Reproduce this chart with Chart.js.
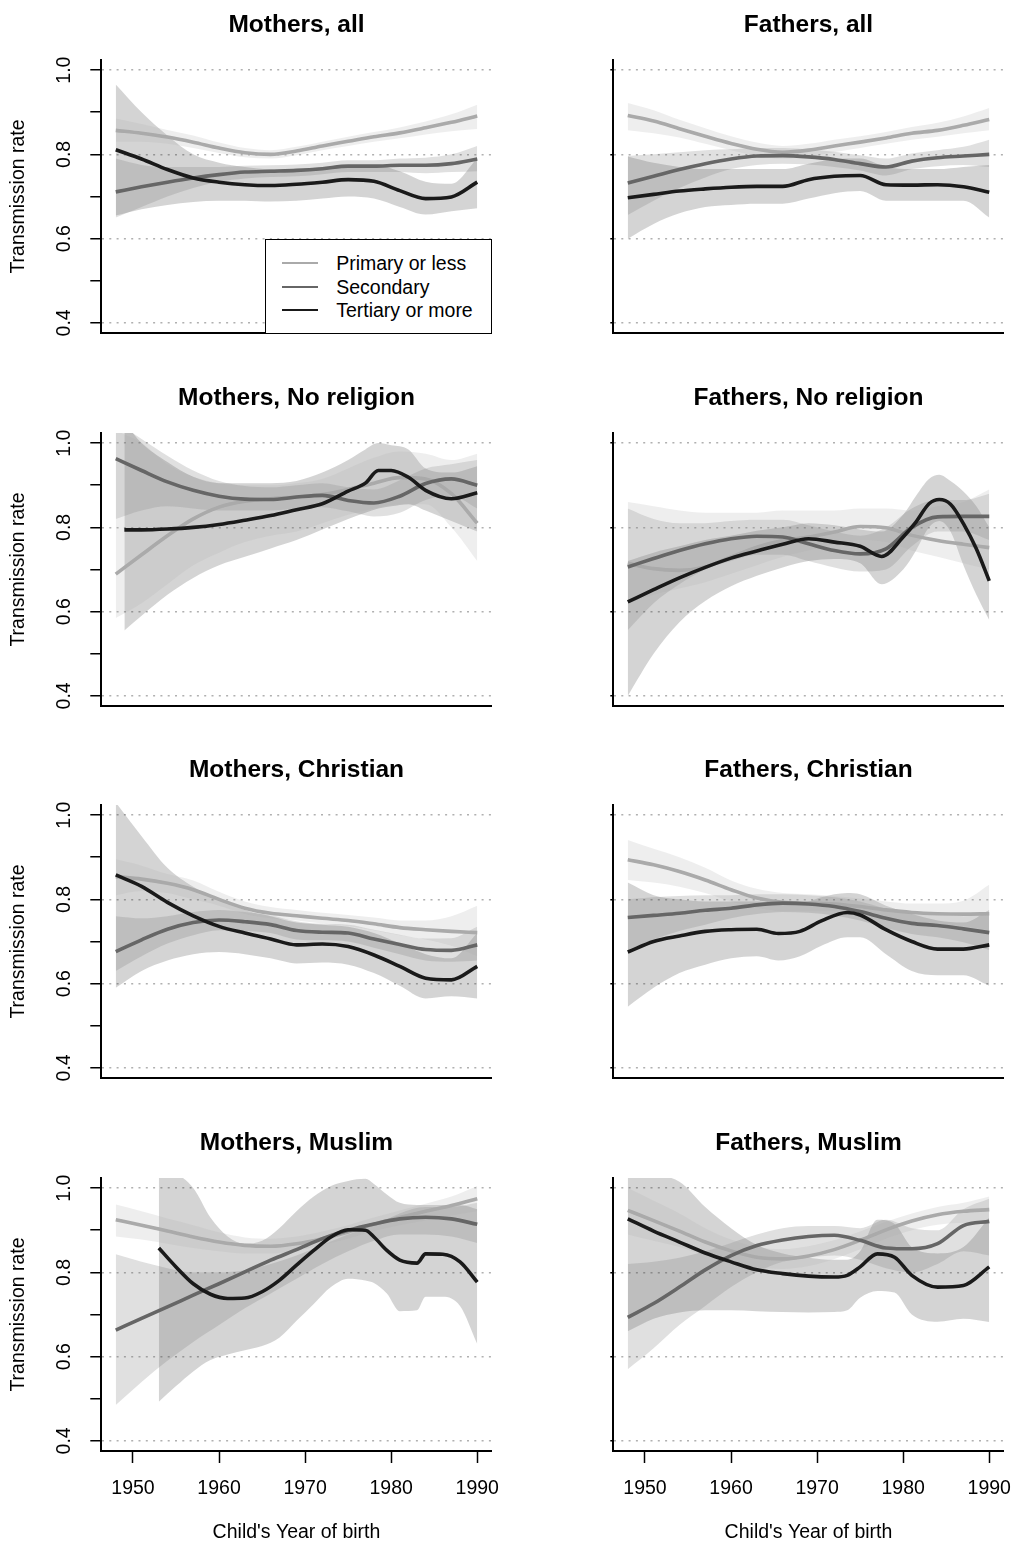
<!DOCTYPE html>
<html>
<head>
<meta charset="utf-8">
<title>Transmission rate by child's year of birth</title>
<script src="https://cdn.jsdelivr.net/npm/chart.js@4.4.1/dist/chart.umd.min.js"></script>
<style>
  body { margin: 0; background: #fff; }
  #wrap { position: relative; width: 1017px; height: 1552px; background: #fff; font-family: 'Liberation Sans', Arial, Helvetica, sans-serif; }
  #wrap canvas { position: absolute; }
  #leyenda { position: absolute; left: 265px; top: 239px; width: 227px; height: 95px; box-sizing: border-box; border: 1.5px solid #000; background: #fff; }
  .fila { position: absolute; left: 16.2px; height: 0; }
  .fila .linea { position: absolute; left: 0; top: -1px; width: 36px; height: 2px; }
  .fila .texto { position: absolute; left: 54px; top: -12px; font-size: 19.5px; line-height: 24px; white-space: nowrap; color: #000; }
</style>
</head>
<body>
<div id="wrap"></div>
<script>

// ejes
const xTicks = [1950, 1960, 1970, 1980, 1990];
const yTicks = [0.4, 0.5, 0.6, 0.7, 0.8, 0.9, 1.0];
const yLabelTicks = [0.4, 0.6, 0.8, 1.0];
const xMin = 1946.32, xMax = 1991.68;
const yMin = 0.376, yMax = 1.024;

const groupNames = ['Primary or less', 'Secondary', 'Tertiary or more'];
const yrs = [1948, 1951, 1954, 1957, 1960, 1963, 1966, 1969, 1972, 1975, 1978, 1981, 1984, 1987, 1990];

// Mothers, all
const mAllPri   = [0.857, 0.85, 0.841, 0.829, 0.815, 0.804, 0.80, 0.808, 0.82, 0.831, 0.842, 0.851, 0.863, 0.876, 0.891];
const mAllPriLo = [0.83, 0.83, 0.825, 0.815, 0.803, 0.793, 0.79, 0.798, 0.81, 0.82, 0.83, 0.838, 0.847, 0.855, 0.86];
const mAllPriHi = [0.885, 0.872, 0.858, 0.845, 0.828, 0.815, 0.81, 0.818, 0.83, 0.842, 0.853, 0.864, 0.878, 0.895, 0.918];
const mAllSec   = [0.711, 0.723, 0.734, 0.744, 0.752, 0.758, 0.76, 0.762, 0.766, 0.772, 0.772, 0.774, 0.774, 0.778, 0.789];
const mAllSecLo = [0.65, 0.675, 0.70, 0.72, 0.735, 0.743, 0.746, 0.748, 0.753, 0.758, 0.758, 0.758, 0.755, 0.758, 0.76];
const mAllSecHi = [0.79, 0.775, 0.77, 0.77, 0.77, 0.773, 0.774, 0.776, 0.78, 0.786, 0.786, 0.79, 0.792, 0.80, 0.82];
const mAllTer   = [0.811, 0.789, 0.764, 0.744, 0.734, 0.728, 0.726, 0.729, 0.734, 0.740, 0.736, 0.714, 0.695, 0.699, 0.734];
const mAllTerLo = [0.655, 0.67, 0.68, 0.687, 0.69, 0.69, 0.688, 0.69, 0.695, 0.70, 0.695, 0.675, 0.657, 0.665, 0.672];
const mAllTerHi = [0.966, 0.90, 0.845, 0.80, 0.78, 0.77, 0.765, 0.765, 0.77, 0.775, 0.775, 0.76, 0.735, 0.73, 0.79];

// Fathers, all
const fAllPri   = [0.892, 0.879, 0.861, 0.843, 0.826, 0.812, 0.805, 0.81, 0.82, 0.829, 0.839, 0.85, 0.857, 0.869, 0.883];
const fAllPriLo = [0.857, 0.85, 0.84, 0.825, 0.81, 0.797, 0.79, 0.795, 0.805, 0.815, 0.825, 0.835, 0.842, 0.85, 0.857];
const fAllPriHi = [0.922, 0.905, 0.882, 0.862, 0.843, 0.828, 0.82, 0.825, 0.835, 0.843, 0.853, 0.865, 0.875, 0.89, 0.91];
const fAllSec   = [0.732, 0.748, 0.764, 0.778, 0.789, 0.796, 0.797, 0.794, 0.788, 0.778, 0.77, 0.784, 0.792, 0.796, 0.80];
const fAllSecLo = [0.656, 0.69, 0.72, 0.745, 0.765, 0.775, 0.778, 0.776, 0.77, 0.762, 0.75, 0.765, 0.772, 0.775, 0.77];
const fAllSecHi = [0.796, 0.80, 0.805, 0.81, 0.812, 0.815, 0.815, 0.812, 0.806, 0.798, 0.79, 0.802, 0.81, 0.818, 0.835];
const fAllTer   = [0.697, 0.705, 0.713, 0.718, 0.722, 0.724, 0.724, 0.74, 0.748, 0.75, 0.728, 0.727, 0.728, 0.723, 0.71];
const fAllTerLo = [0.60, 0.635, 0.66, 0.675, 0.68, 0.683, 0.683, 0.695, 0.708, 0.713, 0.69, 0.69, 0.69, 0.69, 0.65];
const fAllTerHi = [0.795, 0.78, 0.77, 0.765, 0.765, 0.765, 0.765, 0.778, 0.788, 0.79, 0.77, 0.765, 0.765, 0.77, 0.775];

// Mothers, No religion
const mNonePri   = [0.689, 0.735, 0.78, 0.82, 0.848, 0.862, 0.868, 0.872, 0.878, 0.89, 0.905, 0.918, 0.915, 0.88, 0.81];
const mNonePriLo = [0.585, 0.62, 0.665, 0.71, 0.74, 0.765, 0.78, 0.79, 0.81, 0.83, 0.845, 0.855, 0.855, 0.80, 0.72];
const mNonePriHi = [1.03, 1.0, 0.95, 0.92, 0.905, 0.90, 0.90, 0.905, 0.915, 0.94, 0.965, 0.98, 0.975, 0.96, 0.975];
const mNoneSec   = [0.963, 0.935, 0.908, 0.888, 0.874, 0.867, 0.866, 0.872, 0.876, 0.864, 0.858, 0.874, 0.904, 0.915, 0.90];
const mNoneSecLo = [0.82, 0.84, 0.85, 0.845, 0.84, 0.84, 0.84, 0.845, 0.848, 0.838, 0.826, 0.835, 0.865, 0.875, 0.845];
const mNoneSecHi = [1.05, 1.01, 0.97, 0.935, 0.91, 0.898, 0.895, 0.9, 0.905, 0.895, 0.89, 0.912, 0.94, 0.95, 0.96];
const mNoneTerYrs = [1949, 1951, 1954, 1957, 1960, 1963, 1966, 1969, 1972, 1975, 1977, 1978.5, 1980, 1982, 1984, 1987, 1990];
const mNoneTer   = [0.794, 0.794, 0.796, 0.80, 0.807, 0.817, 0.828, 0.842, 0.856, 0.886, 0.905, 0.935, 0.935, 0.919, 0.888, 0.868, 0.882];
const mNoneTerLo = [0.555, 0.59, 0.64, 0.68, 0.71, 0.73, 0.75, 0.77, 0.795, 0.82, 0.835, 0.845, 0.85, 0.855, 0.84, 0.815, 0.79];
const mNoneTerHi = [1.05, 1.0, 0.955, 0.92, 0.905, 0.905, 0.905, 0.91, 0.93, 0.96, 0.985, 1.0, 0.995, 0.985, 0.94, 0.93, 0.945];

// Fathers, No religion
const fNonePri   = [0.715, 0.702, 0.698, 0.706, 0.73, 0.753, 0.769, 0.777, 0.789, 0.802, 0.799, 0.781, 0.769, 0.76, 0.752];
const fNonePriLo = [0.62, 0.64, 0.655, 0.67, 0.69, 0.71, 0.73, 0.745, 0.76, 0.77, 0.765, 0.745, 0.73, 0.715, 0.70];
const fNonePriHi = [0.86, 0.85, 0.84, 0.835, 0.835, 0.835, 0.84, 0.84, 0.84, 0.845, 0.845, 0.84, 0.85, 0.86, 0.89];
const fNoneSec   = [0.706, 0.726, 0.745, 0.761, 0.773, 0.779, 0.777, 0.761, 0.745, 0.737, 0.749, 0.80, 0.825, 0.826, 0.826];
const fNoneSecLo = [0.556, 0.62, 0.665, 0.70, 0.72, 0.735, 0.735, 0.72, 0.705, 0.695, 0.70, 0.755, 0.79, 0.79, 0.77];
const fNoneSecHi = [0.845, 0.82, 0.81, 0.81, 0.815, 0.818, 0.818, 0.805, 0.79, 0.78, 0.80, 0.845, 0.865, 0.865, 0.88];
const fNoneTerYrs = [1948, 1951, 1954, 1957, 1960, 1963, 1966, 1969, 1972, 1975, 1977.5, 1980, 1981.5, 1983, 1984.2, 1985.5, 1987, 1988.5, 1990];
const fNoneTer   = [0.623, 0.652, 0.68, 0.705, 0.727, 0.744, 0.76, 0.773, 0.765, 0.755, 0.731, 0.777, 0.813, 0.856, 0.866, 0.855, 0.809, 0.749, 0.673];
const fNoneTerLo = [0.40, 0.50, 0.575, 0.625, 0.66, 0.685, 0.705, 0.72, 0.725, 0.715, 0.665, 0.70, 0.745, 0.80, 0.815, 0.79, 0.71, 0.64, 0.58];
const fNoneTerHi = [0.72, 0.74, 0.755, 0.77, 0.78, 0.792, 0.80, 0.81, 0.805, 0.795, 0.79, 0.83, 0.875, 0.915, 0.925, 0.91, 0.885, 0.85, 0.80];

// Mothers, Christian
const mChrPri   = [0.854, 0.848, 0.838, 0.823, 0.80, 0.779, 0.767, 0.761, 0.755, 0.75, 0.742, 0.733, 0.728, 0.724, 0.721];
const mChrPriLo = [0.81, 0.82, 0.815, 0.80, 0.785, 0.765, 0.755, 0.75, 0.743, 0.737, 0.727, 0.715, 0.705, 0.69, 0.665];
const mChrPriHi = [0.895, 0.88, 0.86, 0.845, 0.818, 0.795, 0.782, 0.775, 0.768, 0.763, 0.757, 0.75, 0.75, 0.76, 0.785];
const mChrSec   = [0.676, 0.704, 0.729, 0.745, 0.751, 0.747, 0.74, 0.726, 0.722, 0.72, 0.706, 0.693, 0.681, 0.679, 0.692];
const mChrSecLo = [0.63, 0.665, 0.695, 0.715, 0.727, 0.725, 0.72, 0.705, 0.703, 0.70, 0.685, 0.67, 0.655, 0.652, 0.655];
const mChrSecHi = [0.76, 0.755, 0.76, 0.77, 0.775, 0.77, 0.762, 0.748, 0.742, 0.74, 0.728, 0.716, 0.707, 0.708, 0.735];
const mChrTer   = [0.858, 0.831, 0.793, 0.761, 0.736, 0.72, 0.706, 0.692, 0.694, 0.688, 0.668, 0.641, 0.613, 0.609, 0.641];
const mChrTerLo = [0.59, 0.63, 0.655, 0.67, 0.675, 0.67, 0.66, 0.648, 0.65, 0.645, 0.625, 0.595, 0.565, 0.57, 0.565];
const mChrTerHi = [1.03, 0.95, 0.875, 0.83, 0.80, 0.775, 0.76, 0.745, 0.74, 0.735, 0.72, 0.695, 0.67, 0.66, 0.72];

// Fathers, Christian
const fChrPri   = [0.894, 0.882, 0.866, 0.846, 0.823, 0.803, 0.793, 0.791, 0.789, 0.783, 0.775, 0.769, 0.766, 0.765, 0.766];
const fChrPriLo = [0.846, 0.84, 0.83, 0.815, 0.795, 0.78, 0.772, 0.772, 0.772, 0.765, 0.755, 0.747, 0.742, 0.737, 0.727];
const fChrPriHi = [0.941, 0.92, 0.90, 0.875, 0.845, 0.825, 0.815, 0.812, 0.808, 0.802, 0.795, 0.79, 0.79, 0.797, 0.835];
const fChrSec   = [0.757, 0.762, 0.767, 0.774, 0.779, 0.787, 0.791, 0.789, 0.783, 0.771, 0.755, 0.743, 0.738, 0.73, 0.721];
const fChrSecLo = [0.68, 0.705, 0.725, 0.74, 0.755, 0.765, 0.77, 0.768, 0.762, 0.75, 0.732, 0.718, 0.71, 0.698, 0.68];
const fChrSecHi = [0.80, 0.805, 0.808, 0.81, 0.81, 0.812, 0.812, 0.81, 0.805, 0.795, 0.778, 0.767, 0.765, 0.76, 0.765];
const fChrTerYrs = [1948, 1951, 1954, 1957, 1960, 1963, 1965.5, 1968, 1970.5, 1973.5, 1975, 1978, 1981, 1984, 1987, 1990];
const fChrTer   = [0.675, 0.70, 0.713, 0.724, 0.728, 0.729, 0.719, 0.724, 0.749, 0.769, 0.763, 0.728, 0.70, 0.682, 0.682, 0.692];
const fChrTerLo = [0.545, 0.59, 0.625, 0.645, 0.66, 0.665, 0.655, 0.665, 0.69, 0.71, 0.71, 0.67, 0.63, 0.62, 0.62, 0.595];
const fChrTerHi = [0.84, 0.81, 0.80, 0.795, 0.795, 0.795, 0.79, 0.79, 0.805, 0.815, 0.812, 0.785, 0.765, 0.75, 0.745, 0.775];

// Mothers, Muslim
const mMusPri   = [0.925, 0.912, 0.898, 0.884, 0.872, 0.864, 0.862, 0.868, 0.88, 0.896, 0.914, 0.93, 0.945, 0.959, 0.975];
const mMusPriLo = [0.885, 0.878, 0.868, 0.858, 0.85, 0.845, 0.845, 0.852, 0.865, 0.88, 0.898, 0.912, 0.923, 0.935, 0.945];
const mMusPriHi = [0.961, 0.945, 0.928, 0.912, 0.895, 0.883, 0.88, 0.885, 0.897, 0.912, 0.93, 0.947, 0.963, 0.98, 1.005];
const mMusSec   = [0.663, 0.691, 0.718, 0.746, 0.773, 0.801, 0.829, 0.854, 0.88, 0.90, 0.915, 0.927, 0.931, 0.927, 0.914];
const mMusSecLo = [0.485, 0.54, 0.59, 0.635, 0.675, 0.715, 0.75, 0.785, 0.82, 0.85, 0.875, 0.89, 0.89, 0.885, 0.87];
const mMusSecHi = [0.843, 0.825, 0.81, 0.80, 0.80, 0.805, 0.82, 0.84, 0.865, 0.89, 0.91, 0.94, 0.955, 0.955, 0.965];
const mMusTerYrs = [1953, 1955, 1957, 1959, 1961, 1963, 1965, 1967, 1969, 1971, 1973, 1975, 1977, 1978, 1979.5, 1981, 1983, 1984, 1986, 1988, 1990];
const mMusTer   = [0.858, 0.813, 0.773, 0.748, 0.738, 0.739, 0.754, 0.781, 0.817, 0.852, 0.884, 0.901, 0.90, 0.884, 0.852, 0.829, 0.822, 0.844, 0.843, 0.825, 0.777];
const mMusTerLo = [0.493, 0.53, 0.565, 0.592, 0.605, 0.615, 0.625, 0.645, 0.685, 0.725, 0.765, 0.785, 0.781, 0.775, 0.75, 0.708, 0.71, 0.742, 0.742, 0.72, 0.63];
const mMusTerHi = [1.03, 1.03, 1.0, 0.93, 0.885, 0.868, 0.875, 0.905, 0.945, 0.98, 1.005, 1.017, 1.022, 1.01, 0.985, 0.965, 0.96, 0.96, 0.96, 0.96, 0.95];

// Fathers, Muslim
const fMusPri   = [0.947, 0.923, 0.898, 0.872, 0.851, 0.836, 0.832, 0.839, 0.854, 0.876, 0.901, 0.922, 0.937, 0.945, 0.949];
const fMusPriLo = [0.89, 0.875, 0.86, 0.84, 0.825, 0.812, 0.808, 0.815, 0.832, 0.855, 0.88, 0.90, 0.913, 0.918, 0.917];
const fMusPriHi = [1.0, 0.97, 0.94, 0.905, 0.878, 0.86, 0.855, 0.862, 0.876, 0.897, 0.92, 0.94, 0.955, 0.965, 0.98];
const fMusSec   = [0.693, 0.726, 0.765, 0.806, 0.84, 0.864, 0.877, 0.885, 0.888, 0.876, 0.858, 0.856, 0.868, 0.911, 0.921];
const fMusSecLo = [0.57, 0.62, 0.675, 0.72, 0.765, 0.80, 0.825, 0.835, 0.84, 0.83, 0.81, 0.80, 0.82, 0.85, 0.84];
const fMusSecHi = [0.82, 0.825, 0.835, 0.85, 0.87, 0.89, 0.905, 0.91, 0.91, 0.905, 0.925, 0.905, 0.90, 0.95, 0.975];
const fMusTerYrs = [1948, 1951, 1954, 1957, 1960, 1963, 1966, 1969, 1972, 1973.5, 1975, 1977, 1979, 1981, 1984, 1987, 1990];
const fMusTer   = [0.927, 0.898, 0.872, 0.846, 0.825, 0.806, 0.797, 0.791, 0.789, 0.793, 0.813, 0.844, 0.836, 0.793, 0.765, 0.769, 0.813];
const fMusTerLo = [0.66, 0.69, 0.705, 0.71, 0.71, 0.708, 0.706, 0.705, 0.706, 0.71, 0.74, 0.756, 0.752, 0.70, 0.683, 0.69, 0.682];
const fMusTerHi = [1.03, 1.03, 1.015, 0.955, 0.905, 0.865, 0.845, 0.835, 0.83, 0.83, 0.85, 0.925, 0.915, 0.86, 0.845, 0.86, 0.93];

// estilos
const fuente = "'Liberation Sans', Arial, Helvetica, sans-serif";
const lineColors = ['#aaaaaa', '#666666', '#1a1a1a'];
const bandColors = ['rgba(170,170,170,0.2)', 'rgba(102,102,102,0.2)', 'rgba(26,26,26,0.19)'];
const rowTops = [0, 373, 745, 1118];

const panels = [
    { title: 'Mothers, all', series: [[yrs, mAllPri, mAllPriLo, mAllPriHi], [yrs, mAllSec, mAllSecLo, mAllSecHi], [yrs, mAllTer, mAllTerLo, mAllTerHi]] },
    { title: 'Fathers, all', series: [[yrs, fAllPri, fAllPriLo, fAllPriHi], [yrs, fAllSec, fAllSecLo, fAllSecHi], [yrs, fAllTer, fAllTerLo, fAllTerHi]] },
    { title: 'Mothers, No religion', series: [[yrs, mNonePri, mNonePriLo, mNonePriHi], [yrs, mNoneSec, mNoneSecLo, mNoneSecHi], [mNoneTerYrs, mNoneTer, mNoneTerLo, mNoneTerHi]] },
    { title: 'Fathers, No religion', series: [[yrs, fNonePri, fNonePriLo, fNonePriHi], [yrs, fNoneSec, fNoneSecLo, fNoneSecHi], [fNoneTerYrs, fNoneTer, fNoneTerLo, fNoneTerHi]] },
    { title: 'Mothers, Christian', series: [[yrs, mChrPri, mChrPriLo, mChrPriHi], [yrs, mChrSec, mChrSecLo, mChrSecHi], [yrs, mChrTer, mChrTerLo, mChrTerHi]] },
    { title: 'Fathers, Christian', series: [[yrs, fChrPri, fChrPriLo, fChrPriHi], [yrs, fChrSec, fChrSecLo, fChrSecHi], [fChrTerYrs, fChrTer, fChrTerLo, fChrTerHi]] },
    { title: 'Mothers, Muslim', series: [[yrs, mMusPri, mMusPriLo, mMusPriHi], [yrs, mMusSec, mMusSecLo, mMusSecHi], [mMusTerYrs, mMusTer, mMusTerLo, mMusTerHi]] },
    { title: 'Fathers, Muslim', series: [[yrs, fMusPri, fMusPriLo, fMusPriHi], [yrs, fMusSec, fMusSecLo, fMusSecHi], [fMusTerYrs, fMusTer, fMusTerLo, fMusTerHi]] }
];

Chart.defaults.font.family = fuente;
Chart.defaults.color = '#000';


function toPoints(xs, ys) {
    return xs.map((x, i) => ({ x: x, y: ys[i] }));
}


function buildPanel(panel, idx) {
    const col = idx % 2;
    const row = Math.floor(idx / 2);
    const bottomRow = row === 3;
    const w = 505;
    const h = bottomRow ? 434 : 372;

    const canvas = document.createElement('canvas');
    canvas.width = w;
    canvas.height = h;
    canvas.style.left = (col ? 512 : 0) + 'px';
    canvas.style.top = rowTops[row] + 'px';
    document.getElementById('wrap').appendChild(canvas);

    const datasets = [];

    // bandas de confianza (lo + hi rellenado hasta la anterior)
    panel.series.forEach((s, k) => {
        datasets.push({
            data: toPoints(s[0], s[2]),
            borderWidth: 0, borderColor: 'rgba(0,0,0,0)', pointRadius: 0,
            fill: false, order: 3, cubicInterpolationMode: 'monotone'
        });
        datasets.push({
            data: toPoints(s[0], s[3]),
            borderWidth: 0, borderColor: 'rgba(0,0,0,0)', pointRadius: 0,
            fill: '-1', backgroundColor: bandColors[k], order: 3, cubicInterpolationMode: 'monotone'
        });
    });

    // lineas
    panel.series.forEach((s, k) => {
        datasets.push({
            label: groupNames[k],
            data: toPoints(s[0], s[1]),
            borderColor: lineColors[k], borderWidth: 3.6, pointRadius: 0,
            fill: false, order: 2 - k, cubicInterpolationMode: 'monotone'
        });
    });

    const textFont = { family: fuente, size: 19.5 };

    new Chart(canvas, {
        type: 'line',
        data: { datasets: datasets },
        options: {
            responsive: false,
            animation: false,
            devicePixelRatio: 1,
            layout: { padding: { left: 0, right: 13.3, top: 0, bottom: 0 } },
            plugins: {
                legend: { display: false },
                tooltip: { enabled: false },
                title: {
                    display: true,
                    text: panel.title,
                    fullSize: false,
                    color: '#000',
                    font: { family: fuente, size: 24.5, weight: 'bold', lineHeight: 1.2 },
                    padding: { top: 10.1, bottom: 20.5 }
                }
            },
            scales: {
                x: {
                    type: 'linear',
                    min: xMin,
                    max: xMax,
                    afterBuildTicks: s => { s.ticks = xTicks.map(v => ({ value: v })); },
                    afterFit: s => { s.height = h - 333; s.paddingLeft = 0; s.paddingRight = 0; },
                    grid: { display: true, drawOnChartArea: false, drawTicks: bottomRow, tickLength: 12, tickColor: '#000', tickWidth: 1.5 },
                    border: { display: true, color: '#000', width: 2 },
                    ticks: {
                        display: bottomRow, color: '#000', font: textFont, padding: 14,
                        maxRotation: 0, autoSkip: false, callback: v => String(v)
                    },
                    title: {
                        display: bottomRow, text: "Child's Year of birth", color: '#000',
                        font: textFont, padding: { top: 0, bottom: 7.3 }
                    }
                },
                y: {
                    type: 'linear',
                    min: yMin,
                    max: yMax,
                    afterBuildTicks: s => { s.ticks = (col ? yLabelTicks : yTicks).map(v => ({ value: v })); },
                    afterFit: s => { s.width = 101.3; s.paddingTop = 0; s.paddingBottom = 0; },
                    grid: {
                        color: c => (c.tick && yLabelTicks.includes(c.tick.value)) ? '#b0b0b0' : 'rgba(0,0,0,0)',
                        lineWidth: 1.5,
                        drawTicks: true,
                        tickLength: col ? 3 : 11,
                        tickColor: '#000',
                        tickWidth: 1.5,
                        tickBorderDash: []
                    },
                    border: { display: true, color: '#000', width: 2, dash: [2, 5.3] },
                    ticks: {
                        display: !col, color: '#000', font: textFont, padding: 12.1,
                        minRotation: 90, maxRotation: 90, crossAlign: 'center',
                        callback: v => yLabelTicks.includes(v) ? v.toFixed(1) : ''
                    },
                    title: {
                        display: !col, text: 'Transmission rate', color: '#000',
                        font: textFont, padding: { top: 7.3, bottom: 0 }
                    }
                }
            }
        }
    });
}


function buildLegend() {
    const box = document.createElement('div');
    box.id = 'leyenda';
    const rowY = [22.8, 46.8, 70.2];
    groupNames.forEach((name, k) => {
        const fila = document.createElement('div');
        fila.className = 'fila';
        fila.style.top = rowY[k] + 'px';
        const linea = document.createElement('span');
        linea.className = 'linea';
        linea.style.background = lineColors[k];
        const texto = document.createElement('span');
        texto.className = 'texto';
        texto.textContent = name;
        fila.appendChild(linea);
        fila.appendChild(texto);
        box.appendChild(fila);
    });
    document.getElementById('wrap').appendChild(box);
}


panels.forEach(buildPanel);
buildLegend();

</script>
</body>
</html>
